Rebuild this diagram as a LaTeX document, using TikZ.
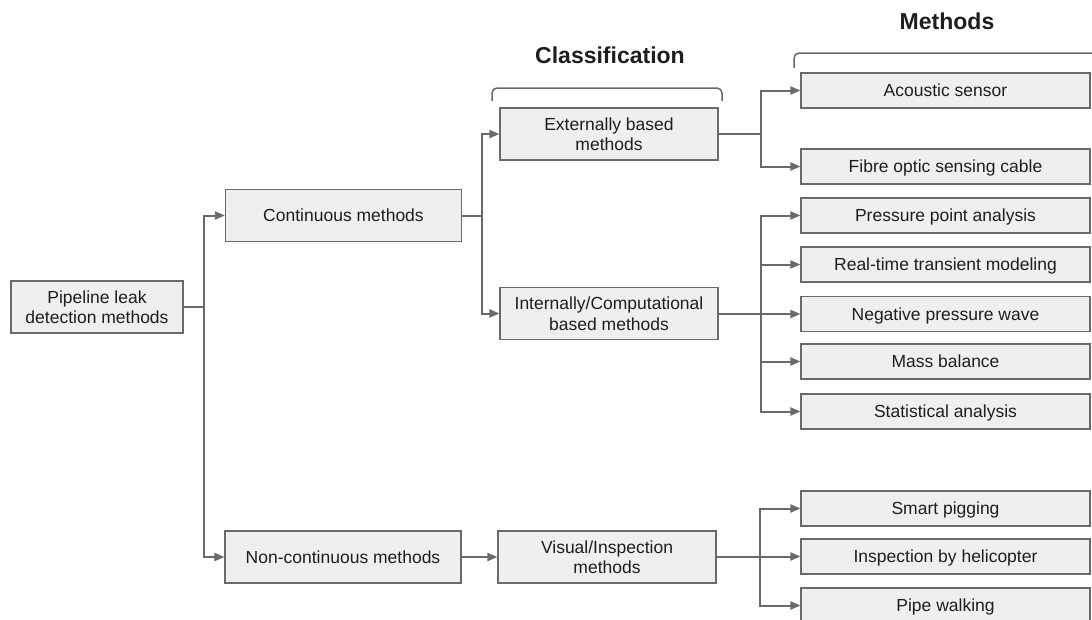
\documentclass[tikz,border=0pt]{standalone}
\usepackage{fontspec}
\setmainfont{Liberation Sans}
\usetikzlibrary{arrows.meta}
\definecolor{boxfill}{HTML}{EFEFEF}
\definecolor{boxline}{HTML}{6A6A6A}
\definecolor{connc}{HTML}{6A6A6A}
\definecolor{txt}{HTML}{1E1E1E}
\begin{document}
\begin{tikzpicture}[x=1pt,y=-1pt,
  box/.style={draw=boxline, fill=boxfill, line width=1.1pt, inner sep=0pt, align=center,
    text depth=0pt, text=txt, font=\fontsize{17.5}{20.5}\selectfont},
  mid/.style={box, minimum width=218pt, minimum height=52pt},
  first/.style={box, minimum width=236pt, minimum height=52pt},
  leaf/.style={box, minimum width=289pt, minimum height=35pt},
  conn/.style={draw=connc, line width=2pt},
  arr/.style={conn, -{Triangle[length=10pt,width=8pt]}},
  bracket/.style={draw=connc, line width=1.5pt, rounded corners=5pt},
  title/.style={font=\bfseries\fontsize{23}{27}\selectfont, text=txt, inner sep=0pt, anchor=base}
]
\clip (0,0) rectangle (1092,619);
\fill[white] (0,0) rectangle (1092,619);

% titles and brackets
\node[title] (tcls) at (610,63) {Classification};
\node[title] (tmeth) at (947,29.5) {Methods};
\draw[bracket] (492,101) -- (492,88) -- (722,88) -- (722,101);
\draw[bracket] (794,68) -- (794,53) -- (1110,53);

% nodes
\node[box, minimum width=172pt, minimum height=52pt] (pipe) at (97,307) {Pipeline leak\\detection methods};
\node[first] (cont) at (343.5,215.5) {Continuous methods};
\node[first] (noncont) at (343,557) {Non-continuous methods};
\node[mid] (ext) at (609,134) {Externally based\\methods};
\node[mid] (int) at (609,313.5) {Internally/Computational\\based methods};
\node[mid] (vis) at (607,557) {Visual/Inspection\\methods};

\node[leaf] (acou) at (945.5,90.5) {Acoustic sensor};
\node[leaf] (fibre) at (945.5,166.5) {Fibre optic sensing cable};
\node[leaf] (ppa) at (945.5,215.5) {Pressure point analysis};
\node[leaf] (rtt) at (945.5,264.5) {Real-time transient modeling};
\node[leaf] (npw) at (945.5,314) {Negative pressure wave};
\node[leaf] (mass) at (945.5,361.5) {Mass balance};
\node[leaf] (stat) at (945.5,411.5) {Statistical analysis};
\node[leaf] (smart) at (945.5,508.5) {Smart pigging};
\node[leaf] (heli) at (945.5,556.5) {Inspection by helicopter};
\node[leaf] (walk) at (945.5,605.5) {Pipe walking};

% connectors
\draw[conn] (pipe.east) -- ++(20,0) coordinate (j1);
\draw[arr] (j1) |- (cont.west);
\draw[arr] (j1) |- (noncont.west);

\draw[conn] (cont.east) -- ++(20,0) coordinate (j2);
\draw[arr] (j2) |- (ext.west);
\draw[arr] (j2) |- (int.west);

\draw[conn] (ext.east) -- ++(42,0) coordinate (j3);
\draw[arr] (j3) |- (acou.west);
\draw[arr] (j3) |- (fibre.west);

\draw[conn] (int.east) -- ++(42,0) coordinate (j4);
\draw[arr] (j4) |- (ppa.west);
\draw[arr] (j4) |- (rtt.west);
\draw[arr] (j4) |- (npw.west);
\draw[arr] (j4) |- (mass.west);
\draw[arr] (j4) |- (stat.west);

\draw[arr] (noncont.east) -- (vis.west);

\draw[conn] (vis.east) -- ++(43,0) coordinate (j5);
\draw[arr] (j5) |- (smart.west);
\draw[arr] (j5) |- (heli.west);
\draw[arr] (j5) |- (walk.west);
\end{tikzpicture}
\end{document}
